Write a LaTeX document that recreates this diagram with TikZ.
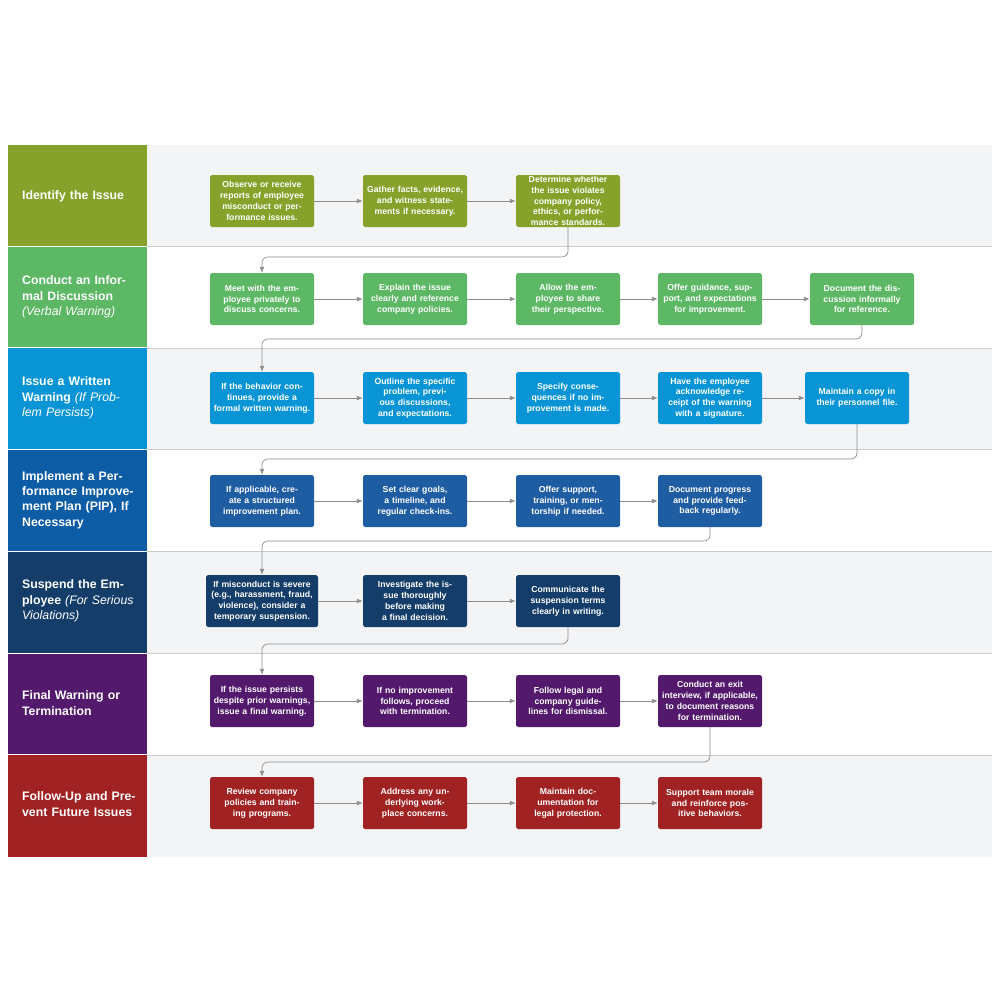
\documentclass[tikz,border=0pt]{standalone}
\usepackage{fontspec}
\setmainfont{Liberation Sans}
\usetikzlibrary{arrows.meta,positioning}
\definecolor{cA}{HTML}{86A22A}
\definecolor{cB}{HTML}{5CB865}
\definecolor{cC}{HTML}{0995D5}
\definecolor{cD}{HTML}{1F5DA3}
\definecolor{cDl}{HTML}{0D5CA6}
\definecolor{cE}{HTML}{153D69}
\definecolor{cF}{HTML}{52196D}
\definecolor{cG}{HTML}{A02222}
\definecolor{laneg}{HTML}{F3F4F6}
\definecolor{flowc}{HTML}{8C8C8C}
\begin{document}
\begin{tikzpicture}[x=0.3mm,y=-0.3mm,
box/.style={rectangle, rounded corners=1.5pt, text=white, minimum width=31.2mm, minimum height=15.6mm, text width=29mm, align=center, font=\fontsize{7.4}{9.2}\selectfont\bfseries, inner sep=1pt},
lanelabel/.style={anchor=west, text=white, text width=36mm, align=left, font=\fontsize{10.5}{13}\selectfont\bfseries},
flow/.style={draw=flowc, line width=0.6pt, -{Latex[length=5pt,width=4pt]}},
turn/.style={flow, rounded corners=5pt}]

\useasboundingbox (0,0) rectangle (1000,1000);

% Lanes
\fill[laneg] (147,145) rectangle (992,246);
\fill[laneg] (147,348) rectangle (992,449);
\fill[laneg] (147,552) rectangle (992,653);
\fill[laneg] (147,755) rectangle (992,857);
\foreach \yy in {246,348,449,551,653,755}
  \draw[gray!40, line width=0.5pt] (147,\yy) -- (992,\yy);
\fill[cA] (8,145) rectangle (147,246);
\fill[cB] (8,247) rectangle (147,347);
\fill[cC] (8,348) rectangle (147,449);
\fill[cDl] (8,450) rectangle (147,551);
\fill[cE] (8,552) rectangle (147,653);
\fill[cF] (8,654) rectangle (147,754);
\fill[cG] (8,755) rectangle (147,857);

% Lane labels
\node[lanelabel] (l1) at (18,196) {Identify the Issue};
\node[lanelabel] (l2) at (18,297) {Conduct an Informal Discussion\\\textit{\mdseries(Verbal Warning)}};
\node[lanelabel] (l3) at (18,398) {Issue a Written Warning \textit{\mdseries(If Problem Persists)}};
\node[lanelabel] (l4) at (18,500) {Implement a Performance Improvement Plan (PIP), If Necessary};
\node[lanelabel] (l5) at (18,601) {Suspend the Employee \textit{\mdseries(For Serious Violations)}};
\node[lanelabel] (l6) at (18,703) {Final Warning or Termination};
\node[lanelabel] (l7) at (18,804) {Follow-Up and Prevent Future Issues};

% Row 1
\node[box, fill=cA] (r1a) at (262,201) {Observe or receive reports of employee misconduct or performance issues.};
\node[box, fill=cA] (r1b) at (415,201) {Gather facts, evidence, and witness statements if necessary.};
\node[box, fill=cA] (r1c) at (568,201) {Determine whether the issue violates company policy, ethics, or performance standards.};
% Row 2
\node[box, fill=cB] (r2a) at (262,299) {Meet with the employee privately to discuss concerns.};
\node[box, fill=cB] (r2b) at (415,299) {Explain the issue clearly and reference company policies.};
\node[box, fill=cB] (r2c) at (568,299) {Allow the employee to share their perspective.};
\node[box, fill=cB] (r2d) at (710,299) {Offer guidance, support, and expectations for improvement.};
\node[box, fill=cB] (r2e) at (862,299) {Document the discussion informally for reference.};
% Row 3
\node[box, fill=cC] (r3a) at (262,398) {If the behavior continues, provide a formal written warning.};
\node[box, fill=cC] (r3b) at (415,398) {Outline the specific problem, previous discussions, and expectations.};
\node[box, fill=cC] (r3c) at (568,398) {Specify consequences if no improvement is made.};
\node[box, fill=cC] (r3d) at (710,398) {Have the employee acknowledge receipt of the warning with a signature.};
\node[box, fill=cC] (r3e) at (857,398) {Maintain a copy in their personnel file.};
% Row 4
\node[box, fill=cD] (r4a) at (262,501) {If applicable, create a structured improvement plan.};
\node[box, fill=cD] (r4b) at (415,501) {Set clear goals, a timeline, and regular check-ins.};
\node[box, fill=cD] (r4c) at (568,501) {Offer support, training, or mentorship if needed.};
\node[box, fill=cD] (r4d) at (710,501) {Document progress and provide feedback regularly.};
% Row 5
\node[box, fill=cE, minimum width=33.6mm, text width=31.5mm] (r5a) at (262,601) {If misconduct is severe (e.g., harassment, fraud, violence), consider a temporary suspension.};
\node[box, fill=cE] (r5b) at (415,601) {Investigate the issue thoroughly before making a final decision.};
\node[box, fill=cE] (r5c) at (568,601) {Communicate the suspension terms clearly in writing.};
% Row 6
\node[box, fill=cF] (r6a) at (262,701) {If the issue persists despite prior warnings, issue a final warning.};
\node[box, fill=cF] (r6b) at (415,701) {If no improvement follows, proceed with termination.};
\node[box, fill=cF] (r6c) at (568,701) {Follow legal and company guidelines for dismissal.};
\node[box, fill=cF] (r6d) at (710,701) {Conduct an exit interview, if applicable, to document reasons for termination.};
% Row 7
\node[box, fill=cG] (r7a) at (262,803) {Review company policies and training programs.};
\node[box, fill=cG] (r7b) at (415,803) {Address any underlying workplace concerns.};
\node[box, fill=cG] (r7c) at (568,803) {Maintain documentation for legal protection.};
\node[box, fill=cG] (r7d) at (710,803) {Support team morale and reinforce positive behaviors.};

% Flows within lanes
\path[flow] (r1a) -- (r1b);
\path[flow] (r1b) -- (r1c);
\path[flow] (r2a) -- (r2b);
\path[flow] (r2b) -- (r2c);
\path[flow] (r2c) -- (r2d);
\path[flow] (r2d) -- (r2e);
\path[flow] (r3a) -- (r3b);
\path[flow] (r3b) -- (r3c);
\path[flow] (r3c) -- (r3d);
\path[flow] (r3d) -- (r3e);
\path[flow] (r4a) -- (r4b);
\path[flow] (r4b) -- (r4c);
\path[flow] (r4c) -- (r4d);
\path[flow] (r5a) -- (r5b);
\path[flow] (r5b) -- (r5c);
\path[flow] (r6a) -- (r6b);
\path[flow] (r6b) -- (r6c);
\path[flow] (r6c) -- (r6d);
\path[flow] (r7a) -- (r7b);
\path[flow] (r7b) -- (r7c);
\path[flow] (r7c) -- (r7d);

% Flows between lanes
\coordinate (t2) at (0,257);
\coordinate (t3) at (0,339);
\coordinate (t4) at (0,459);
\coordinate (t5) at (0,541);
\coordinate (t6) at (0,644);
\coordinate (t7) at (0,762);
\path[turn] (r1c.south) -- (r1c.south |- t2) -| (r2a.north);
\path[turn] (r2e.south) -- (r2e.south |- t3) -| (r3a.north);
\path[turn] (r3e.south) -- (r3e.south |- t4) -| (r4a.north);
\path[turn] (r4d.south) -- (r4d.south |- t5) -| (r5a.north);
\path[turn] (r5c.south) -- (r5c.south |- t6) -| (r6a.north);
\path[turn] (r6d.south) -- (r6d.south |- t7) -| (r7a.north);
\end{tikzpicture}
\end{document}
